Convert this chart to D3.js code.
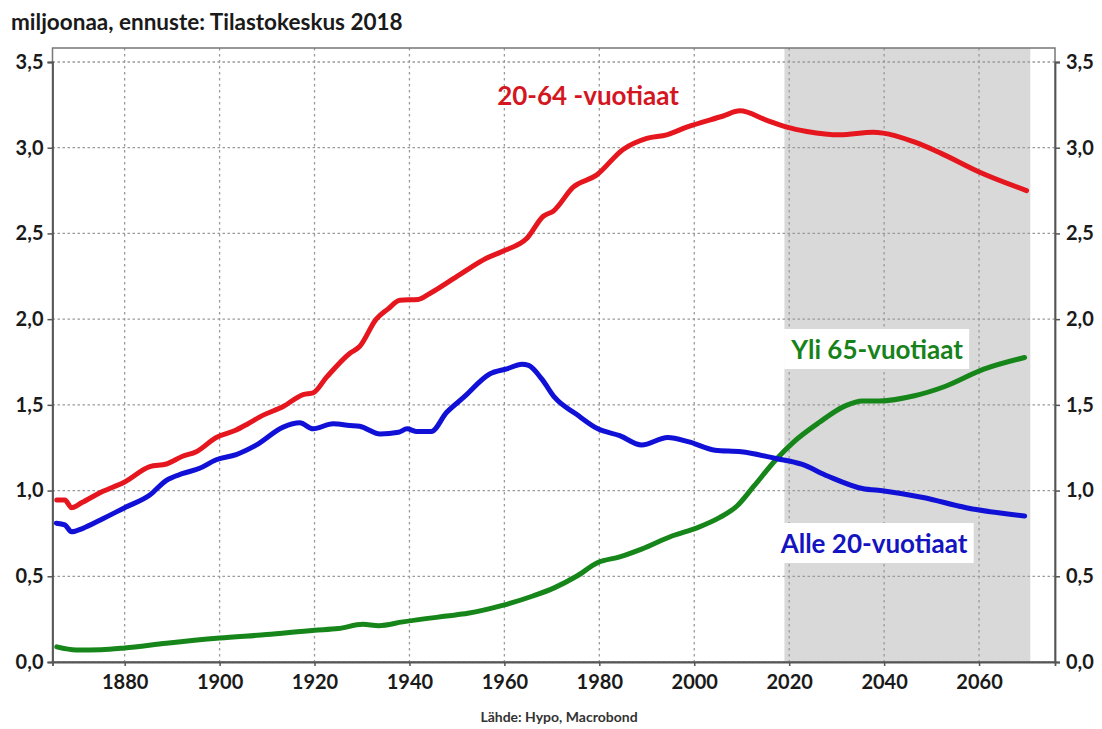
<!DOCTYPE html>
<html>
<head>
<meta charset="utf-8">
<script src="https://cdn.jsdelivr.net/npm/d3@7"></script>
<style>
    body { margin: 0; background: #fff; }
    svg { display: block; font-family: Lato, "Open Sans", sans-serif; }
</style>
</head>
<body>
<div id="chart"></div>
<script>
// population, millions (forecast: Tilastokeskus 2018)
const working = [
    [1865.7, 0.945], [1867.4, 0.945], [1868.8, 0.90], [1871, 0.93], [1875, 0.99],
    [1880, 1.05], [1885.3, 1.14], [1888.8, 1.155], [1892.2, 1.20], [1895.1, 1.227],
    [1899.3, 1.31], [1903.5, 1.353], [1906, 1.39], [1909.2, 1.44], [1913.4, 1.49],
    [1917.6, 1.56], [1919.7, 1.57], [1922.5, 1.66], [1927.4, 1.80], [1929.5, 1.84],
    [1933, 2.0], [1935.5, 2.06], [1938, 2.11], [1941.8, 2.115], [1944.3, 2.15],
    [1950.6, 2.26], [1956.2, 2.355], [1960, 2.40], [1964.7, 2.47], [1968.2, 2.60],
    [1970.3, 2.63], [1974.5, 2.77], [1979.4, 2.84], [1985, 2.99], [1990, 3.055],
    [1994.2, 3.075], [1998.4, 3.12], [2006.1, 3.185], [2009.6, 3.215], [2015.3, 3.16],
    [2019.5, 3.12], [2023.7, 3.095], [2030.7, 3.075], [2037.7, 3.09], [2039.8, 3.085],
    [2046.2, 3.035], [2051.8, 2.97], [2059.9, 2.86], [2070, 2.75]
]
const young = [
    [1865.6, 0.81], [1867.4, 0.80], [1868.8, 0.76], [1871.2, 0.78], [1875, 0.83],
    [1880, 0.90], [1885.3, 0.974], [1888.8, 1.06], [1892.3, 1.10], [1895.8, 1.13],
    [1899.3, 1.18], [1903.5, 1.21], [1907.7, 1.265], [1913.4, 1.37], [1916.9, 1.395],
    [1919.7, 1.36], [1923.9, 1.39], [1927.4, 1.38], [1929.5, 1.375], [1933.8, 1.33],
    [1937.7, 1.34], [1939.5, 1.36], [1941.4, 1.345], [1944.6, 1.345], [1947.8, 1.455],
    [1951.4, 1.543], [1956.9, 1.68], [1960.5, 1.71], [1963.7, 1.737], [1965.1, 1.73],
    [1967.9, 1.65], [1970.6, 1.543], [1975.2, 1.445], [1979.7, 1.36], [1984.3, 1.32],
    [1988.9, 1.266], [1994.4, 1.31], [1998.9, 1.284], [2004.4, 1.235], [2009.9, 1.226],
    [2017.2, 1.187], [2022.6, 1.154], [2028.1, 1.085], [2035.4, 1.012], [2040, 0.998],
    [2048.2, 0.96], [2057.3, 0.90], [2069.6, 0.852]
]
const elderly = [
    [1865.7, 0.088], [1869.8, 0.07], [1875, 0.072], [1880, 0.082], [1888.8, 0.11],
    [1900, 0.14], [1909.9, 0.16], [1920, 0.185], [1925, 0.195], [1930.2, 0.22],
    [1933.5, 0.212], [1938.6, 0.234], [1947.8, 0.268], [1952.3, 0.284], [1959.6, 0.33],
    [1966, 0.385], [1970.6, 0.434], [1975.2, 0.50], [1979.7, 0.58], [1984.3, 0.613],
    [1988.9, 0.658], [1995.3, 0.735], [2000.7, 0.784], [2005.3, 0.842], [2009, 0.91],
    [2012.6, 1.027], [2017.2, 1.18], [2020.8, 1.28], [2026.3, 1.397], [2031.8, 1.494],
    [2035.4, 1.523], [2039.1, 1.523], [2046.4, 1.553], [2052.8, 1.607], [2061, 1.708],
    [2069.6, 1.776]
]
const forecastSpan = [2019, 2070.8]
const xTicks = [1880, 1900, 1920, 1940, 1960, 1980, 2000, 2020, 2040, 2060]
const yTicks = [0, 0.5, 1, 1.5, 2, 2.5, 3, 3.5]

const W = 1102, H = 729
const plot = { left: 52.5, right: 1055, top: 48, bottom: 662 }

const svg = d3.select("#chart").append("svg")
    .attr("width", W)
    .attr("height", H)

const x = d3.scaleLinear().domain([1864.8, 2076]).range([plot.left, plot.right])
const y = d3.scaleLinear().domain([0, 3.5]).range([plot.bottom, 62])
const fmt = v => d3.format(".1f")(v).replace(".", ",")

svg.append("text")
    .attr("x", 11)
    .attr("y", 30)
    .attr("font-size", 22.5)
    .attr("font-weight", 700)
    .attr("fill", "#1a1a1a")
    .text("miljoonaa, ennuste: Tilastokeskus 2018")

// forecast shading
svg.append("rect")
    .attr("x", x(forecastSpan[0]))
    .attr("y", plot.top)
    .attr("width", x(forecastSpan[1]) - x(forecastSpan[0]))
    .attr("height", plot.bottom - plot.top)
    .attr("fill", "#d9d9d9")

// grid
svg.append("g")
    .selectAll("line")
    .data(yTicks)
    .join("line")
    .attr("x1", plot.left).attr("x2", plot.right)
    .attr("y1", d => y(d)).attr("y2", d => y(d))
    .attr("stroke", "#9a9a9a")
    .attr("stroke-width", 1.3)
    .attr("stroke-dasharray", "2.5,2.5")

svg.append("g")
    .selectAll("line")
    .data(xTicks)
    .join("line")
    .attr("x1", d => x(d)).attr("x2", d => x(d))
    .attr("y1", plot.top).attr("y2", plot.bottom)
    .attr("stroke", "#9a9a9a")
    .attr("stroke-width", 1.3)
    .attr("stroke-dasharray", "2.5,3.5")

// frame
svg.append("rect")
    .attr("x", plot.left).attr("y", plot.top)
    .attr("width", plot.right - plot.left).attr("height", plot.bottom - plot.top)
    .attr("fill", "none")
    .attr("stroke", "#777")
    .attr("stroke-width", 1.5)

// axes
const yLeft = svg.append("g")
    .attr("transform", `translate(${plot.left},0)`)
    .call(d3.axisLeft(y).tickValues(yTicks).tickFormat(fmt).tickSize(5).tickPadding(4))
const yRight = svg.append("g")
    .attr("transform", `translate(${plot.right},0)`)
    .call(d3.axisRight(y).tickValues(yTicks).tickFormat(fmt).tickSize(5).tickPadding(6))
const xAxis = svg.append("g")
    .attr("transform", `translate(0,${plot.bottom})`)
    .call(d3.axisBottom(x).tickValues(xTicks).tickFormat(d3.format("d")).tickSize(4).tickPadding(9))

;[yLeft, yRight, xAxis].forEach(g => {
    g.select(".domain").attr("stroke", "#555").attr("stroke-width", 1.8)
    g.selectAll(".tick line").attr("stroke", "#555").attr("stroke-width", 1.5)
    g.selectAll(".tick text")
        .attr("font-family", "Lato, sans-serif")
        .attr("font-size", 20)
        .attr("font-weight", 700)
        .attr("fill", "#1a1a1a")
})

// series
const line = d3.line()
    .x(d => x(d[0]))
    .y(d => y(d[1]))
    .curve(d3.curveMonotoneX)

const series = [
    { data: elderly, color: "#17861a" },
    { data: young, color: "#1010d6" },
    { data: working, color: "#e5161d" }
]

svg.append("g")
    .selectAll("path")
    .data(series)
    .join("path")
    .attr("d", d => line(d.data))
    .attr("fill", "none")
    .attr("stroke", d => d.color)
    .attr("stroke-width", 5)
    .attr("stroke-linejoin", "round")
    .attr("stroke-linecap", "round")

// labels
const labels = [
    { text: "20-64 -vuotiaat", x: 588, y: 105, color: "#d4161f", box: false },
    { text: "Yli 65-vuotiaat", x: 877, y: 359, color: "#17821a", box: true },
    { text: "Alle 20-vuotiaat", x: 874, y: 553, color: "#1414c0", box: true }
]

labels.forEach(l => {
    const g = svg.append("g")
    const t = g.append("text")
        .attr("x", l.x)
        .attr("y", l.y)
        .attr("text-anchor", "middle")
        .attr("font-size", 26)
        .attr("font-weight", 700)
        .attr("fill", l.color)
        .text(l.text)
    if (l.box) {
        const b = t.node().getBBox()
        g.insert("rect", "text")
            .attr("x", b.x - 6)
            .attr("y", b.y - 4)
            .attr("width", b.width + 12)
            .attr("height", b.height + 8)
            .attr("fill", "#fff")
    }
})

svg.append("text")
    .attr("x", 559)
    .attr("y", 722)
    .attr("text-anchor", "middle")
    .attr("font-size", 14)
    .attr("font-weight", 700)
    .attr("fill", "#333")
    .text("Lähde: Hypo, Macrobond")
</script>
</body>
</html>
